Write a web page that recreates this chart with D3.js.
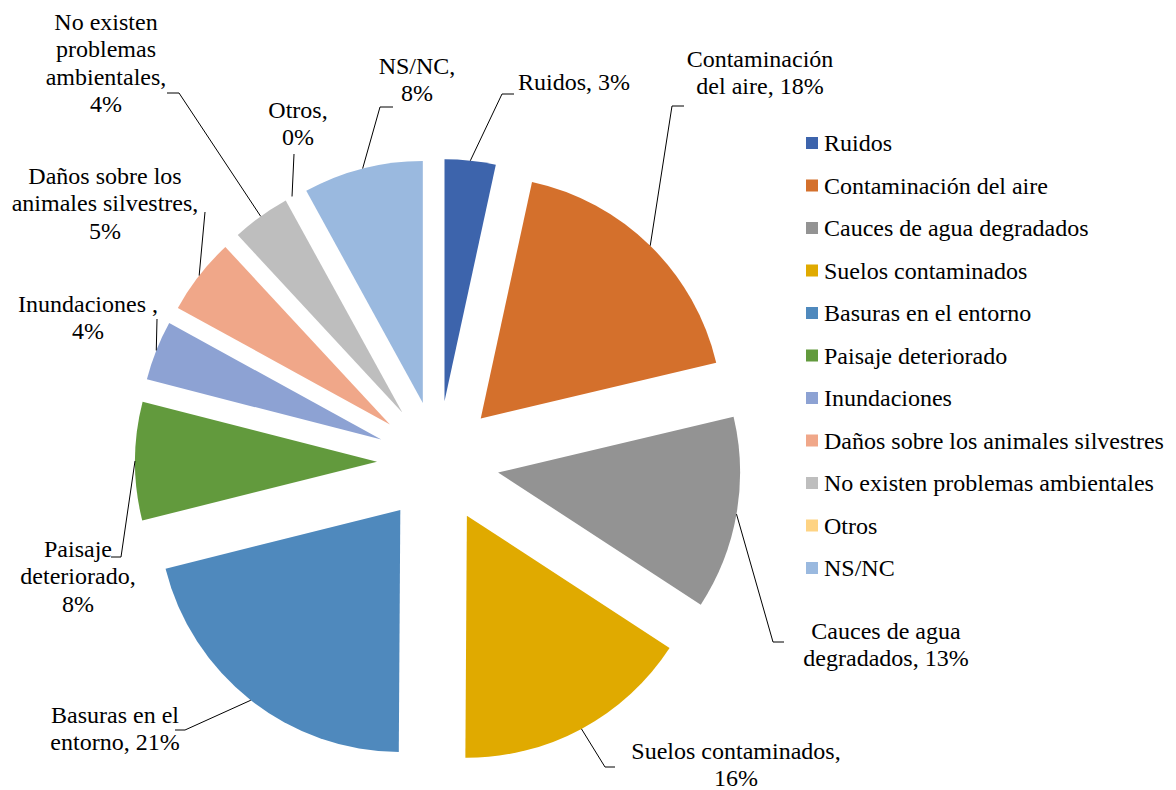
<!DOCTYPE html>
<html>
<head>
<meta charset="utf-8">
<script src="https://cdn.jsdelivr.net/npm/d3@7"></script>
<style>
  html, body { margin: 0; padding: 0; background: #ffffff; }
  svg { display: block; }
</style>
</head>
<body>
<svg id="chart" width="1176" height="790"></svg>
<script>
// Problemas ambientales percibidos (% de respuestas)
const categories = [
  "Ruidos",
  "Contaminación del aire",
  "Cauces de agua degradados",
  "Suelos contaminados",
  "Basuras en el entorno",
  "Paisaje deteriorado",
  "Inundaciones",
  "Daños sobre los animales silvestres",
  "No existen problemas ambientales",
  "Otros",
  "NS/NC"
];
const values = [3.4, 17.9, 12.9, 15.9, 21.0, 7.9, 4.0, 5.1, 3.9, 0.0, 8.0];

// Text of each data label; the percentage is appended from the value
const labelLines = [
  ["Ruidos,"],
  ["Contaminación", "del aire,"],
  ["Cauces de agua", "degradados,"],
  ["Suelos contaminados,"],
  ["Basuras en el", "entorno,"],
  ["Paisaje", "deteriorado,"],
  ["Inundaciones ,"],
  ["Daños sobre los", "animales silvestres,"],
  ["No existen", "problemas", "ambientales,"],
  ["Otros,"],
  ["NS/NC,"]
];
// Labels whose percentage sits on the same line as the last word
const pctInline = [true, true, true, false, true, false, false, false, false, false, false];

const colors = [
  "#3d64ac", "#d4702c", "#939393", "#e0aa00", "#4f89bd", "#629a3d",
  "#8da2d3", "#f0a789", "#bebebe", "#fed383", "#9ab9df"
];

// Label placement: text centre x, first baseline y, leader elbow and stub end
const labelLayout = [
  { x: 574, y: 90,  elbow: [502, 94],  stub: [514, 94] },
  { x: 760, y: 67,  elbow: [672, 106], stub: [684, 106] },
  { x: 886, y: 639, elbow: [773, 642], stub: [784, 642] },
  { x: 736, y: 759, elbow: [605, 767], stub: [615, 767] },
  { x: 115, y: 723, elbow: [185, 730], stub: [175, 730] },
  { x: 78,  y: 557, elbow: [121, 557], stub: [111, 557] },
  { x: 88,  y: 312, elbow: [157, 319], stub: [157, 319] },
  { x: 105, y: 184, elbow: [205, 212], stub: [205, 212] },
  { x: 106, y: 30,  elbow: [179, 93],  stub: [167, 93] },
  { x: 298, y: 118, elbow: [294, 154], stub: [294, 154] },
  { x: 417, y: 74,  elbow: [380, 107], stub: [393, 107] }
];

const fontFamily = '"Liberation Serif", "Times New Roman", Times, "DejaVu Serif", serif';
const fontSize = 24;
const lineGap = 27.4;

const svg = d3.select("#chart")
  .attr("font-family", fontFamily)
  .style("font-family", fontFamily);
const cx = 438, cy = 462;
const radius = 242;
const explode = 61;

const pie = d3.pie().sort(null).value(d => d)
  .startAngle(0).endAngle(2 * Math.PI);
const arcs = pie(values);

const arc = d3.arc().innerRadius(0).outerRadius(radius);
const rim = d3.arc().innerRadius(radius).outerRadius(radius);

const offset = d => {
  const mid = (d.startAngle + d.endAngle) / 2;
  return [explode * Math.sin(mid), -explode * Math.cos(mid)];
};

const pieG = svg.append("g").attr("transform", `translate(${cx},${cy})`);

pieG.selectAll("path.slice")
  .data(arcs)
  .join("path")
  .attr("class", "slice")
  .attr("d", arc)
  .attr("fill", (d, i) => colors[i])
  .attr("transform", d => `translate(${offset(d)})`);

// Leader lines from the middle of each slice's rim to its label
const fmt = d3.format(".0f");
arcs.forEach((d, i) => {
  const o = offset(d);
  const c = rim.centroid(d);
  const start = [cx + o[0] + c[0], cy + o[1] + c[1]];
  const L = labelLayout[i];
  svg.append("path")
    .attr("d", d3.line()([start, L.elbow, L.stub]))
    .attr("fill", "none")
    .attr("stroke", "#000")
    .attr("stroke-width", 1);

  const lines = labelLines[i].slice();
  const pct = fmt(d.data) + "%";
  if (pctInline[i]) {
    lines[lines.length - 1] += " " + pct;
  } else {
    lines.push(pct);
  }
  const t = svg.append("text")
    .attr("text-anchor", "middle")
    .attr("font-family", fontFamily)
    .attr("font-size", fontSize)
    .attr("fill", "#000");
  lines.forEach((s, k) => {
    t.append("tspan").attr("x", L.x).attr("y", L.y + k * lineGap).text(s);
  });
});

// Legend
const legend = svg.append("g").attr("transform", "translate(806,143)");
const rowGap = 42.5;
const items = legend.selectAll("g.item")
  .data(categories)
  .join("g")
  .attr("class", "item")
  .attr("transform", (d, i) => `translate(0,${i * rowGap})`);
items.append("rect")
  .attr("x", 0).attr("y", -6).attr("width", 12).attr("height", 12)
  .attr("fill", (d, i) => colors[i]);
items.append("text")
  .attr("x", 18).attr("y", 8)
  .attr("font-family", fontFamily)
  .attr("font-size", fontSize)
  .attr("fill", "#000")
  .text(d => d);
</script>
</body>
</html>
